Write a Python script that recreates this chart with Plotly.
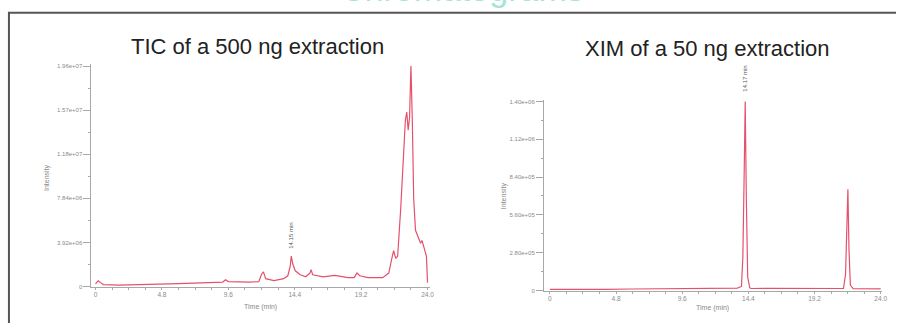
import plotly.graph_objects as go

# ---- data ----
tic_time = [0.0, 0.07, 0.2, 0.36, 0.57, 1.7, 3.9, 6.0, 8.2, 9.2, 9.4, 9.6, 11.1, 11.8, 12.0, 12.14, 12.3,
            12.9, 13.6, 13.9, 14.08, 14.15, 14.26, 14.44, 14.8, 15.2, 15.5, 15.58, 15.7, 16.45, 17.3,
            18.25, 18.7, 18.9, 19.1, 19.7, 20.76, 21.2, 21.4, 21.55, 21.7, 21.84, 22.06, 22.27, 22.4,
            22.5, 22.6, 22.7, 22.8, 22.9, 23.0, 23.13, 23.35, 23.5, 23.6, 23.78, 23.92, 24.0]
tic_int = [2.5e5, 3.5e5, 5.2e5, 3.5e5, 1.8e5, 1.3e5, 1.8e5, 2.6e5, 3.5e5, 4.0e5, 6.0e5, 4.4e5, 4.0e5, 4.4e5,
           1.1e6, 1.3e6, 7.0e5, 5.3e5, 7.0e5, 9.6e5, 1.84e6, 2.7e6, 2.0e6, 1.4e6, 1.05e6, 8.7e5, 1.2e6,
           1.5e6, 1.05e6, 8.7e5, 1.0e6, 7.9e5, 7.9e5, 1.2e6, 9.6e5, 7.9e5, 7.9e5, 1.2e6, 2.4e6, 3.2e6,
           2.5e6, 2.7e6, 6.9e6, 1.22e7, 1.48e7, 1.55e7, 1.39e7, 1.5e7, 1.96e7, 1.48e7, 7.8e6, 5.0e6,
           4.3e6, 3.85e6, 4.1e6, 3.2e6, 2.7e6, 3.5e5]

xim_time = [0.0, 2.0, 4.0, 6.0, 8.0, 10.0, 12.0, 13.6, 13.9, 14.0, 14.1, 14.17, 14.25, 14.35, 14.5, 14.6,
            16.0, 18.0, 20.0, 21.3, 21.45, 21.55, 21.62, 21.7, 21.8, 22.0, 24.0]
xim_int = [8e3, 7e3, 9e3, 1.1e4, 1.3e4, 1.4e4, 1.6e4, 1.8e4, 3e4, 2.5e5, 9e5, 1.4e6, 7e5, 1e5, 2e4, 1.5e4,
           1.6e4, 1.5e4, 1.3e4, 1.5e4, 1.2e5, 5e5, 7.5e5, 3e5, 4e4, 1.4e4, 1.2e4]

x_ticks = [0, 4.8, 9.6, 14.4, 19.2, 24.0]
x_tick_text = ["0", "4.8", "9.6", "14.4", "19.2", "24.0"]
tic_y_ticks = [0, 3.92e6, 7.84e6, 1.176e7, 1.568e7, 1.96e7]
tic_y_text = ["0", "3.92e+06", "7.84e+06", "1.18e+07", "1.57e+07", "1.96e+07"]
xim_y_ticks = [0, 2.8e5, 5.6e5, 8.4e5, 1.12e6, 1.4e6]
xim_y_text = ["0", "2.80e+05", "5.60e+05", "8.40e+05", "1.12e+06", "1.40e+06"]

titles = ["TIC of a 500 ng extraction", "XIM of a 50 ng extraction"]
peak_labels = ["14.15 min", "14.17 min"]

W, H = 901, 326
def px(x):
    return x / W
def py(y):
    return 1 - y / H

LINE = "#e5506c"
AX = "#a8a8a8"
TXT = "#8a8a8a"
FONT = "Liberation Sans, Arial, sans-serif"

fig = go.Figure()
fig.add_trace(go.Scatter(x=tic_time, y=tic_int, mode="lines", line=dict(color=LINE, width=1.2),
                         xaxis="x", yaxis="y", showlegend=False, hoverinfo="skip"))
fig.add_trace(go.Scatter(x=xim_time, y=xim_int, mode="lines", line=dict(color=LINE, width=1.2),
                         xaxis="x2", yaxis="y2", showlegend=False, hoverinfo="skip"))

def xax(domain, rng, anchor):
    return dict(domain=domain, range=rng, anchor=anchor, showgrid=False, zeroline=False,
                showline=True, linecolor=AX, linewidth=1, ticks="outside", ticklen=2,
                tickcolor=AX, tickvals=x_ticks, ticktext=x_tick_text,
                tickfont=dict(size=6.5, color=TXT, family=FONT),
                minor=dict(ticks="outside", ticklen=2, tickcolor=AX, dtick=1.2, tick0=0))

def yax(domain, rng, anchor, vals, text, step):
    return dict(domain=domain, range=rng, anchor=anchor, showgrid=False, zeroline=False,
                showline=True, linecolor=AX, linewidth=1, ticks="outside", ticklen=7,
                tickcolor=AX, tickvals=vals, ticktext=text,
                tickfont=dict(size=6, color=TXT, family=FONT),
                minor=dict(ticks="outside", ticklen=2, tickcolor=AX, dtick=step / 2, tick0=0))

fig.update_layout(
    width=W, height=H, margin=dict(l=0, r=0, t=0, b=0),
    paper_bgcolor="white", plot_bgcolor="white",
    font=dict(family=FONT),
    xaxis=xax([px(92), px(432)], [-0.29, 24.15], "y"),
    yaxis=yax([py(289), py(63)], [0, 1.96e7 * 226 / 224], "x", tic_y_ticks, tic_y_text, 3.92e6),
    xaxis2=xax([px(547), px(887)], [-0.43, 24.1], "y2"),
    yaxis2=yax([py(293), py(100)], [0, 1.4e6 * 193 / 192], "x2", xim_y_ticks, xim_y_text, 2.8e5),
)

def note(text, x, y, size, color, angle=0, xa="center", ya="middle"):
    return dict(text=text, x=px(x), y=py(y), xref="paper", yref="paper", showarrow=False,
                xanchor=xa, yanchor=ya, textangle=angle,
                font=dict(size=size, color=color, family=FONT))

ann = [
    note(titles[0], 259, 45, 22, "#222222"),
    note(titles[1], 711, 47, 22, "#222222"),
    note("Intensity", 48, 178, 7, TXT, -90),
    note("Intensity", 507, 197, 7, TXT, -90),
    note("Time (min)", 262, 310, 7, TXT),
    note("Time (min)", 716, 311, 7, TXT),
    note(peak_labels[0], 293, 237, 6, "#555555", -90),
    note(peak_labels[1], 749, 78, 6, "#555555", -90),
    # cut-off slide heading in teal at the very top
    note("Chromatograms", 465, 8, 34, "#a6e3d8", 0, "center", "bottom"),
]
fig.update_layout(annotations=ann)

fig.update_layout(shapes=[
    dict(type="line", xref="paper", yref="paper", x0=px(8), x1=1, y0=py(11), y1=py(11),
         line=dict(color="#555555", width=2)),
    dict(type="line", xref="paper", yref="paper", x0=px(9), x1=px(9), y0=py(11), y1=0,
         line=dict(color="#555555", width=2)),
])

fig.write_html("out.html", config={"displayModeBar": False},
               post_script="document.body.style.margin='0';document.body.style.padding='0';")
